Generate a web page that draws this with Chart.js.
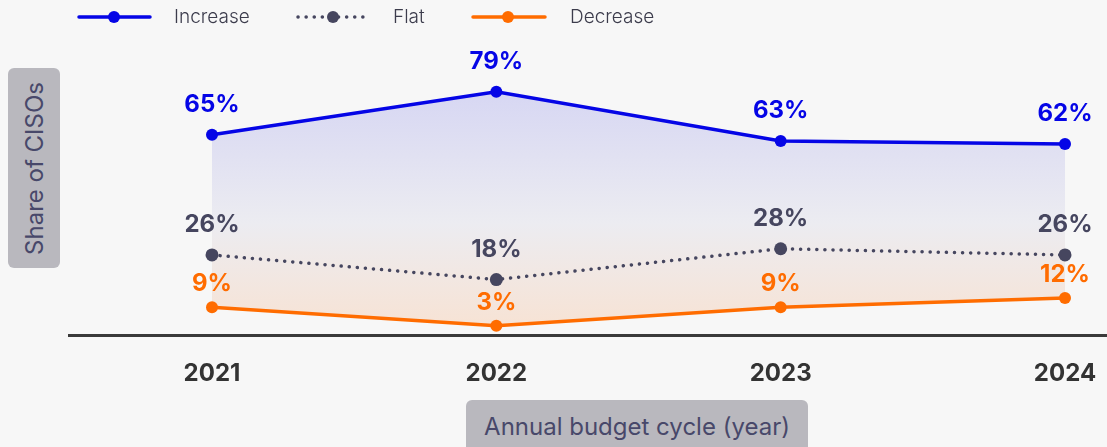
<!DOCTYPE html>
<html>
<head>
<meta charset="utf-8">
<script src="https://cdn.jsdelivr.net/npm/chart.js@4.4.1/dist/chart.umd.min.js"></script>
<style>
  html, body { margin: 0; padding: 0; background: #f7f7f7; }
  #wrap { position: relative; width: 1107px; height: 447px; overflow: hidden; }
  #budgetChart { position: absolute; left: 0; top: 0; }
  .axisBox {
    position: absolute; background: #b9b8be; border-radius: 6px;
    color: #48486a; font-family: Inter, "Noto Sans", sans-serif; font-size: 24px;
    display: flex; align-items: center; justify-content: center;
  }
  #yTitle { left: 8px; top: 68px; width: 52px; height: 200px; }
  #yTitle span { transform: rotate(-90deg); white-space: nowrap; display: block; }
  #xTitle { left: 466px; top: 400px; width: 342px; height: 56px; align-items: flex-start; padding-top: 12px; box-sizing: border-box; }
</style>
</head>
<body>
<div id="wrap">
  <canvas id="budgetChart" width="1107" height="447"></canvas>
  <div class="axisBox" id="yTitle"><span>Share of CISOs</span></div>
  <div class="axisBox" id="xTitle">Annual budget cycle (year)</div>
</div>
<script>
// chart data
const years = ['2021', '2022', '2023', '2024'];
const increaseValues = [65, 79, 63, 62];
const flatValues = [26, 18, 28, 26];
const decreaseValues = [9, 3, 9, 12];
const seriesNames = ['Increase', 'Flat', 'Decrease'];

const BLUE = '#0505e6';
const GREY = '#46465f';
const ORANGE = '#ff6c00';
const FONT = 'Inter, "Noto Sans", sans-serif';

// gradient between Increase and Decrease lines
function areaGradient(context) {
    const chart = context.chart;
    const area = chart.chartArea;
    if (!area) return 'rgba(0,0,0,0)';
    const g = chart.ctx.createLinearGradient(0, area.top + 60, 0, area.bottom);
    g.addColorStop(0, 'rgba(214,214,243,1)');
    g.addColorStop(0.55, 'rgba(236,236,241,1)');
    g.addColorStop(1, 'rgba(248,226,210,1)');
    return g;
}

// value labels above each point
const valueLabelPlugin = {
    id: 'valueLabels',
    afterDatasetsDraw(chart) {
        const ctx = chart.ctx;
        const offsets = [30, 30, 23];
        chart.data.datasets.forEach((ds, i) => {
            const meta = chart.getDatasetMeta(i);
            meta.data.forEach((pt, j) => {
                ctx.save();
                ctx.font = 'bold 24px ' + FONT;
                ctx.textAlign = 'center';
                ctx.textBaseline = 'middle';
                ctx.fillStyle = ds.borderColor;
                ctx.fillText(ds.data[j] + '%', pt.x, pt.y - offsets[i]);
                ctx.restore();
            });
        });
    }
};

// base line + legend on the canvas
const decorPlugin = {
    id: 'decor',
    beforeDatasetsDraw(chart) {
        const ctx = chart.ctx;
        const y = chart.scales.y.getPixelForValue(0);
        ctx.save();
        ctx.strokeStyle = '#3a3a3a';
        ctx.lineWidth = 3;
        ctx.beginPath();
        ctx.moveTo(68, y + 0.5);
        ctx.lineTo(chart.width, y + 0.5);
        ctx.stroke();
        ctx.restore();
    },
    afterDraw(chart) {
        const ctx = chart.ctx;
        const items = [
            { x1: 79, x2: 150, dot: 114, tx: 174 },
            { x1: 298, x2: 366, dot: 333, tx: 393 },
            { x1: 473, x2: 545, dot: 508, tx: 570 }
        ];
        const ly = 17;
        items.forEach((it, i) => {
            const ds = chart.data.datasets[i];
            ctx.save();
            ctx.strokeStyle = ds.borderColor;
            ctx.lineWidth = 3.5;
            ctx.lineCap = 'round';
            if (ds.borderDash) ctx.setLineDash([0.1, 8]);
            ctx.beginPath();
            ctx.moveTo(it.x1, ly);
            ctx.lineTo(it.x2, ly);
            ctx.stroke();
            ctx.setLineDash([]);
            ctx.fillStyle = ds.borderColor;
            ctx.beginPath();
            ctx.arc(it.dot, ly, 6, 0, Math.PI * 2);
            ctx.fill();
            ctx.font = '300 19px ' + FONT;
            ctx.fillStyle = '#3c3c4c';
            ctx.textAlign = 'left';
            ctx.textBaseline = 'middle';
            ctx.fillText(ds.label, it.tx, ly);
            ctx.restore();
        });
    }
};

const budgetData = {
    labels: years,
    datasets: [
        {
            label: seriesNames[0],
            data: increaseValues,
            borderColor: BLUE,
            backgroundColor: areaGradient,
            pointBackgroundColor: BLUE,
            borderWidth: 3.5,
            pointRadius: 6,
            pointBorderWidth: 0,
            fill: { target: 2 },
            tension: 0,
            clip: false
        },
        {
            label: seriesNames[1],
            data: flatValues,
            borderColor: GREY,
            pointBackgroundColor: GREY,
            borderWidth: 3.5,
            borderDash: [0.1, 8],
            borderCapStyle: 'round',
            pointRadius: 6.5,
            pointBorderWidth: 0,
            fill: false,
            clip: false
        },
        {
            label: seriesNames[2],
            data: decreaseValues,
            borderColor: ORANGE,
            pointBackgroundColor: ORANGE,
            borderWidth: 3.5,
            pointRadius: 6,
            pointBorderWidth: 0,
            fill: false,
            clip: false
        }
    ]
};

const budgetConfig = {
    type: 'line',
    data: budgetData,
    options: {
        responsive: false,
        animation: false,
        layout: {
            padding: { left: 212, right: 42, top: 27, bottom: 0 }
        },
        plugins: {
            legend: { display: false },
            tooltip: { enabled: false },
            filler: { drawTime: 'beforeDatasetsDraw' }
        },
        scales: {
            x: {
                offset: false,
                grid: { display: false, drawTicks: false },
                border: { display: false },
                ticks: {
                    padding: 24,
                    color: '#333333',
                    font: { family: FONT, size: 24, weight: 'bold' }
                },
                afterFit(scale) {
                    scale.height = 447 - 335;
                    scale.paddingLeft = 0;
                    scale.paddingRight = 0;
                }
            },
            y: {
                display: false,
                min: 0,
                max: 100
            }
        }
    },
    plugins: [valueLabelPlugin, decorPlugin]
};

const budgetChart = new Chart(document.getElementById('budgetChart'), budgetConfig);
</script>
</body>
</html>
